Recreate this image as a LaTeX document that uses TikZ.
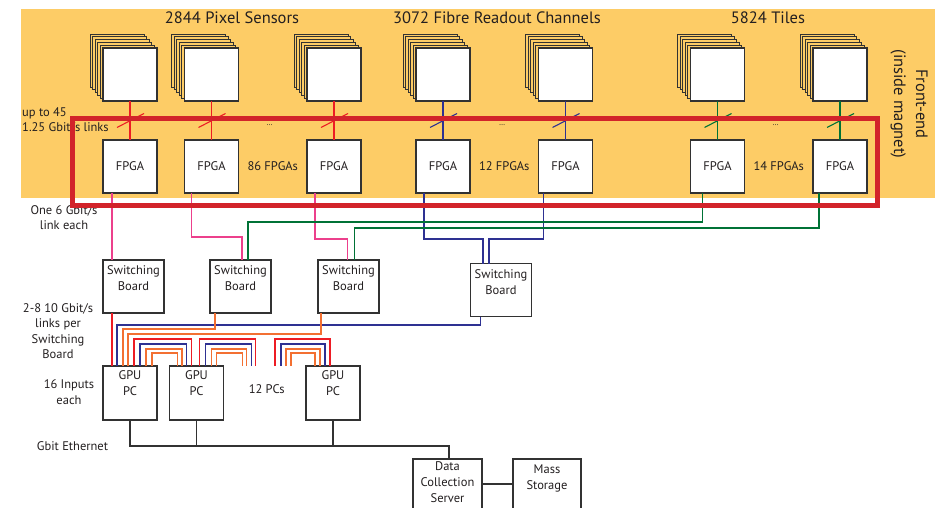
\documentclass[tikz,border=0pt]{standalone}
\usepackage{fontspec}
\setmainfont{PT Sans}
\usepackage{tikz}
\usetikzlibrary{positioning, calc, shadows}
\definecolor{bgamber}{RGB}{253,204,102}
\definecolor{framered}{RGB}{210,35,42}
\definecolor{pixred}{RGB}{237,28,36}
\definecolor{fibreblue}{RGB}{46,49,146}
\definecolor{tilegreen}{RGB}{0,114,54}
\definecolor{linkpink}{RGB}{236,64,140}
\definecolor{linkorange}{RGB}{243,112,50}
\definecolor{boxdark}{RGB}{50,50,50}
\definecolor{txtdark}{RGB}{35,31,32}
\tikzset{
  box/.style={rectangle, draw=boxdark, fill=white, line width=1.2pt,
    inner sep=0pt, outer sep=0pt, align=center, font=\fontsize{12.5}{16}\selectfont},
  sensor/.style={
    general shadow={shadow xshift=-13pt, shadow yshift=14pt, fill=bgamber, draw=boxdark, line width=0.9pt},
    general shadow={shadow xshift=-10.4pt, shadow yshift=11.2pt, fill=bgamber, draw=boxdark, line width=0.9pt},
    general shadow={shadow xshift=-7.8pt, shadow yshift=8.4pt, fill=bgamber, draw=boxdark, line width=0.9pt},
    general shadow={shadow xshift=-5.2pt, shadow yshift=5.6pt, fill=bgamber, draw=boxdark, line width=0.9pt},
    general shadow={shadow xshift=-2.6pt, shadow yshift=2.8pt, fill=bgamber, draw=boxdark, line width=0.9pt},
    box, minimum width=54pt, minimum height=53pt},
  fpga/.style={box, minimum width=54pt, minimum height=53pt},
  switchbox/.style={box, minimum width=61pt, minimum height=53pt,
    text height=30.5pt, text depth=22.5pt},
  gpubox/.style={box, minimum width=54pt, minimum height=54pt,
    text height=29.5pt, text depth=24.5pt},
  server/.style={box, minimum width=69pt, minimum height=50pt,
    text height=43.5pt, text depth=6.5pt},
  title/.style={font=\fontsize{16.5}{22}\selectfont, inner sep=0pt},
  note/.style={inner sep=0pt, align=center},
  dots/.style={font=\fontsize{8}{9}\selectfont, inner sep=0pt},
  link/.style={line width=1.1pt},
  fpgalink/.style={link, color=linkpink},
  fiblink/.style={link, color=fibreblue},
  tilelink/.style={link, color=tilegreen},
  pixlink/.style={link, color=pixred},
  sblink/.style={link, color=linkorange},
  ethlink/.style={link, color=boxdark}
}
\begin{document}
\begin{tikzpicture}[x=1pt, y=1pt, font=\fontsize{12.5}{15.5}\selectfont, text=txtdark]
  \useasboundingbox (0,0) rectangle (938,-508);
  % Front-end area
  \fill[bgamber] (21,-9) rectangle (935,-198);
  \node[title] (tpix) at (232,-18) {2844 Pixel Sensors};
  \node[title] (tfib) at (497,-18) {3072 Fibre Readout Channels};
  \node[title] (ttil) at (768,-18) {5824 Tiles};
  \node[title, align=center, rotate=-90] (tfe) at (909,-104) {Front-end\\(inside magnet)};
  % Sensors
  \node[sensor] (s1) at (130,-74.5) {};
  \node[sensor, right=27.5pt of s1] (s2) {};
  \node[sensor, right=68.5pt of s2] (s3) {};
  \node[sensor, right=55pt of s3] (s4) {};
  \node[sensor, right=68.5pt of s4] (s5) {};
  \node[sensor, right=98pt of s5] (s6) {};
  \node[sensor, right=68.5pt of s6] (s7) {};
  % FPGAs
  \foreach \i in {1,...,7}
    \node[fpga, below=39pt of s\i] (f\i) {FPGA};
  \foreach \i/\c in {1/pixred,2/pixred,3/pixred,4/fibreblue,5/fibreblue,6/tilegreen,7/tilegreen} {
    \draw[link, \c] (s\i) -- (f\i);
    \draw[link, \c] ($(s\i.south)!0.5!(f\i.north)$) +(-13pt,-7pt) -- +(14pt,7pt);
  }
  \node[dots] (d1) at ($(f2.north)!0.5!(f3.north)+(-3pt,15pt)$) {\ldots};
  \node[dots] (d2) at ($(f4.north)!0.5!(f5.north)+(-2pt,15pt)$) {\ldots};
  \node[dots] (d3) at ($(f6.north)!0.5!(f7.north)+(-3pt,15pt)$) {\ldots};
  \node[note] (n86) at ($(f2)!0.5!(f3)$) {86 FPGAs};
  \node[note] (n12) at ($(f4)!0.5!(f5)$) {12 FPGAs};
  \node[note] (n14) at ($(f6)!0.5!(f7)$) {14 FPGAs};
  % Switching boards
  \node[switchbox, below=67pt of f1, xshift=3.5pt] (sb1) {Switching\\Board};
  \node[switchbox, right=46pt of sb1] (sb2) {Switching\\Board};
  \node[switchbox, right=47pt of sb2] (sb3) {Switching\\Board};
  \node[switchbox, right=91.5pt of sb3, yshift=-3.5pt] (sb4) {Switching\\Board};
  % GPU PCs and storage
  \node[gpubox, below=53pt of sb1, xshift=-3.5pt] (g1) {GPU\\PC};
  \node[gpubox, right=12.5pt of g1] (g2) {GPU\\PC};
  \node[gpubox, right=82.5pt of g2] (g3) {GPU\\PC};
  \node[note] (n12pc) at ($(g2)!0.5!(g3)+(2pt,4pt)$) {12 PCs};
  \node[server, below right=39pt and 53pt of g3] (dcs) {Data\\Collection\\Server};
  \node[server, right=31pt of dcs, minimum width=68pt, text height=30.5pt, text depth=19.5pt] (ms) {Mass\\Storage};
  % FPGA to switching boards
  \draw[fpgalink] ([xshift=9pt]f1.south west) -- ([xshift=9pt]sb1.north west);
  \draw[fpgalink] ([xshift=7pt]f2.south west) -- ++(0,-44pt) -| ([xshift=1.5pt]sb2.north);
  \draw[fpgalink] ([xshift=8pt]f3.south west) -- ++(0,-46pt) -| ([xshift=-1pt]sb3.north);
  \draw[fiblink] ([xshift=8pt]f4.south west) -- ++(0,-46pt) -| ([xshift=-18pt]sb4.north);
  \draw[fiblink] ([xshift=5pt]f5.south west) -- ++(0,-46pt) -| ([xshift=-12pt]sb4.north);
  \draw[tilelink] ([xshift=12pt]f6.south west) -- ++(0,-29pt) -| ([xshift=7.5pt]sb2.north);
  \draw[tilelink] ([xshift=6pt]f7.south west) -- ++(0,-35pt) -| ([xshift=6pt]sb3.north);
  % Switching boards to GPU PCs
  \draw[pixlink] ([xshift=9pt]sb1.south west) -- ([xshift=9pt]g1.north west);
  \draw[fiblink] ([xshift=10pt]sb4.south west) -- ++(0,-8.5pt) -| ([xshift=14pt]g1.north west);
  \draw[sblink] ([xshift=5pt]sb2.south west) -- ++(0,-16pt) -| ([xshift=20pt]g1.north west);
  \draw[sblink] ([xshift=3pt]sb3.south west) -- ++(0,-21pt) -| ([xshift=25pt]g1.north west);
  \foreach \c/\h/\a/\b in {pixred/27/31/22, fibreblue/22/37/17, linkorange/17/43/12.5, linkorange/13/49/8}
    \draw[link, \c] ([xshift=\a pt]g1.north west) -- ++(0,\h pt) -| ([xshift=\b pt]g2.north west);
  \foreach \c/\h/\a/\b in {pixred/27/30/32, fibreblue/22/36/28, linkorange/17/42/23, linkorange/13/47/19}
    \draw[link, \c] ([xshift=\a pt]g2.north west) -- ++(0,\h pt) -| ([xshift=\b pt]g2.north east);
  \foreach \c/\h/\a/\b in {pixred/27/31/24, fibreblue/22/25/19, linkorange/17/20/14, linkorange/13/15/9}
    \draw[link, \c] ([xshift=-\a pt]g3.north west) -- ++(0,\h pt) -| ([xshift=\b pt]g3.north west);
  % Ethernet
  \draw[ethlink] (g1.south) -- ++(0,-26pt) -| ([xshift=1.5pt]dcs.north);
  \draw[ethlink] (g2.south) -- ++(0,-26pt);
  \draw[ethlink] (g3.south) -- ++(0,-26pt);
  \draw[ethlink] (dcs.east) -- (ms.west);
  % Labels
  \node[note, align=left, anchor=west] (lup) at (22,-120.5) {up to 45\\1.25 Gbit/s links};
  \node[note] (lone) at (64,-217.5) {One 6 Gbit/s\\link each};
  \node[note] (ltwo) at (58,-331) {2-8 10 Gbit/s\\links per\\Switching\\Board};
  \node[note] (lin) at (69,-392) {16 Inputs\\each};
  \node[note] (leth) at (72.5,-446) {Gbit Ethernet};
  % Front-end readout frame
  \draw[framered, line width=5pt] (72.7,-118.5) rectangle (877.5,-205.5);
\end{tikzpicture}
\end{document}
